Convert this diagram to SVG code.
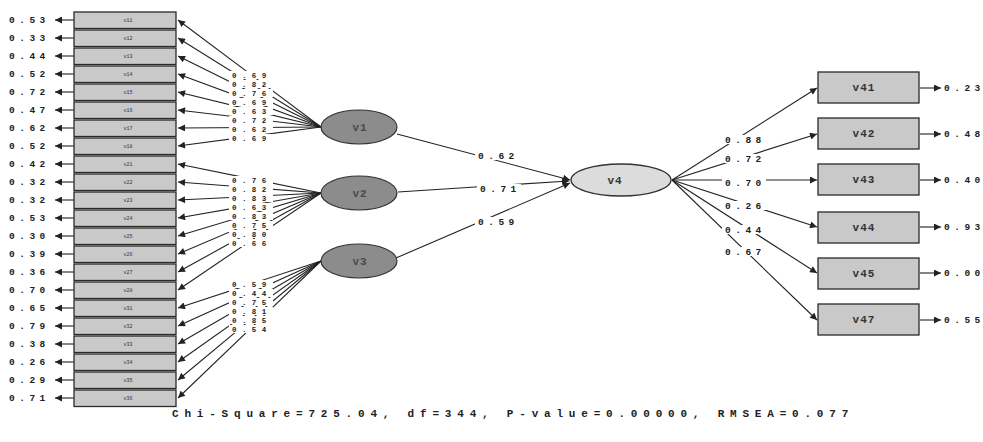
<svg xmlns="http://www.w3.org/2000/svg" width="983" height="442" viewBox="0 0 983 442">
<style>
.t{font-family:"Liberation Mono",monospace;font-weight:bold;font-size:9.5px;letter-spacing:4.5px;fill:#222}
.s{font-family:"Liberation Mono",monospace;font-weight:bold;font-size:7.5px;letter-spacing:5.4px;fill:#222}
.bx{fill:#c9c9c9;stroke:#2a2a2a;stroke-width:1.3}
.bt{font-family:"Liberation Mono",monospace;font-size:5px;fill:#333;text-anchor:middle}
.rt{font-family:"Liberation Mono",monospace;font-weight:bold;font-size:11px;letter-spacing:1px;fill:#333;text-anchor:middle}
.ln{stroke:#222;stroke-width:1.1;fill:none}
.bg{fill:#fff}
</style>
<defs>
<marker id="ah" viewBox="0 0 10 10" refX="10" refY="5" markerWidth="8" markerHeight="7" markerUnits="userSpaceOnUse" orient="auto">
<path d="M0,0 L10,5 L0,10 z" fill="#222"/>
</marker>
</defs>
<rect width="983" height="442" fill="#fff"/>

<g id="connectors">
<g class="ln" marker-end="url(#ah)">
<line x1="321" y1="127" x2="178" y2="20"/>
<line x1="321" y1="127" x2="178" y2="38"/>
<line x1="321" y1="127" x2="178" y2="56"/>
<line x1="321" y1="127" x2="178" y2="74"/>
<line x1="321" y1="127" x2="178" y2="92"/>
<line x1="321" y1="127" x2="178" y2="110"/>
<line x1="321" y1="127" x2="178" y2="128"/>
<line x1="321" y1="127" x2="178" y2="146"/>
<line x1="321" y1="193" x2="178" y2="164"/>
<line x1="321" y1="193" x2="178" y2="182"/>
<line x1="321" y1="193" x2="178" y2="200"/>
<line x1="321" y1="193" x2="178" y2="218"/>
<line x1="321" y1="193" x2="178" y2="236"/>
<line x1="321" y1="193" x2="178" y2="254"/>
<line x1="321" y1="193" x2="178" y2="272"/>
<line x1="321" y1="193" x2="178" y2="290"/>
<line x1="321" y1="261" x2="178" y2="308"/>
<line x1="321" y1="261" x2="178" y2="326"/>
<line x1="321" y1="261" x2="178" y2="344"/>
<line x1="321" y1="261" x2="178" y2="362"/>
<line x1="321" y1="261" x2="178" y2="380"/>
<line x1="321" y1="261" x2="178" y2="398"/>
<line x1="74" y1="20" x2="55" y2="20"/>
<line x1="74" y1="38" x2="55" y2="38"/>
<line x1="74" y1="56" x2="55" y2="56"/>
<line x1="74" y1="74" x2="55" y2="74"/>
<line x1="74" y1="92" x2="55" y2="92"/>
<line x1="74" y1="110" x2="55" y2="110"/>
<line x1="74" y1="128" x2="55" y2="128"/>
<line x1="74" y1="146" x2="55" y2="146"/>
<line x1="74" y1="164" x2="55" y2="164"/>
<line x1="74" y1="182" x2="55" y2="182"/>
<line x1="74" y1="200" x2="55" y2="200"/>
<line x1="74" y1="218" x2="55" y2="218"/>
<line x1="74" y1="236" x2="55" y2="236"/>
<line x1="74" y1="254" x2="55" y2="254"/>
<line x1="74" y1="272" x2="55" y2="272"/>
<line x1="74" y1="290" x2="55" y2="290"/>
<line x1="74" y1="308" x2="55" y2="308"/>
<line x1="74" y1="326" x2="55" y2="326"/>
<line x1="74" y1="344" x2="55" y2="344"/>
<line x1="74" y1="362" x2="55" y2="362"/>
<line x1="74" y1="380" x2="55" y2="380"/>
<line x1="74" y1="398" x2="55" y2="398"/>
<line x1="397" y1="134" x2="570" y2="180"/>
<line x1="398" y1="192" x2="569" y2="181"/>
<line x1="396" y1="258" x2="570" y2="183"/>
<line x1="672" y1="180" x2="817" y2="88"/>
<line x1="672" y1="180" x2="817" y2="134"/>
<line x1="672" y1="180" x2="817" y2="180"/>
<line x1="672" y1="180" x2="817" y2="227"/>
<line x1="672" y1="180" x2="817" y2="273"/>
<line x1="672" y1="180" x2="817" y2="320"/>
<line x1="920" y1="88" x2="941" y2="88"/>
<line x1="920" y1="134" x2="941" y2="134"/>
<line x1="920" y1="180" x2="941" y2="180"/>
<line x1="920" y1="227" x2="941" y2="227"/>
<line x1="920" y1="273" x2="941" y2="273"/>
<line x1="920" y1="320" x2="941" y2="320"/>
</g>
<g class="bg">
<rect x="229" y="71" width="44" height="8"/>
<rect x="229" y="80" width="44" height="8"/>
<rect x="229" y="89" width="44" height="8"/>
<rect x="229" y="98" width="44" height="8"/>
<rect x="229" y="107" width="44" height="8"/>
<rect x="229" y="116" width="44" height="8"/>
<rect x="229" y="125" width="44" height="8"/>
<rect x="229" y="134" width="44" height="8"/>
<rect x="229" y="176" width="44" height="8"/>
<rect x="229" y="185" width="44" height="8"/>
<rect x="229" y="194" width="44" height="8"/>
<rect x="229" y="203" width="44" height="8"/>
<rect x="229" y="212" width="44" height="8"/>
<rect x="229" y="221" width="44" height="8"/>
<rect x="229" y="230" width="44" height="8"/>
<rect x="229" y="239" width="44" height="8"/>
<rect x="229" y="280" width="44" height="8"/>
<rect x="229" y="289" width="44" height="8"/>
<rect x="229" y="298" width="44" height="8"/>
<rect x="229" y="307" width="44" height="8"/>
<rect x="229" y="316" width="44" height="8"/>
<rect x="229" y="325" width="44" height="8"/>
<rect x="475" y="151" width="44" height="9"/>
<rect x="477" y="184" width="44" height="9"/>
<rect x="475" y="217" width="44" height="9"/>
<rect x="722" y="135" width="44" height="9"/>
<rect x="722" y="154" width="44" height="9"/>
<rect x="722" y="178" width="44" height="9"/>
<rect x="722" y="201" width="44" height="9"/>
<rect x="722" y="225" width="44" height="9"/>
<rect x="722" y="247" width="44" height="9"/>
</g>
<g class="s">
<text x="232" y="78">0.69</text>
<text x="232" y="87">0.82</text>
<text x="232" y="96">0.76</text>
<text x="232" y="105">0.69</text>
<text x="232" y="114">0.63</text>
<text x="232" y="123">0.72</text>
<text x="232" y="132">0.62</text>
<text x="232" y="141">0.69</text>
<text x="232" y="183">0.76</text>
<text x="232" y="192">0.82</text>
<text x="232" y="201">0.83</text>
<text x="232" y="210">0.63</text>
<text x="232" y="219">0.83</text>
<text x="232" y="228">0.75</text>
<text x="232" y="237">0.80</text>
<text x="232" y="246">0.66</text>
<text x="232" y="287">0.59</text>
<text x="232" y="296">0.44</text>
<text x="232" y="305">0.75</text>
<text x="232" y="314">0.81</text>
<text x="232" y="323">0.85</text>
<text x="232" y="332">0.54</text>
</g>
<g class="t">
<text x="478" y="159">0.62</text>
<text x="480" y="192">0.71</text>
<text x="478" y="225">0.59</text>
<text x="725" y="143">0.88</text>
<text x="725" y="162">0.72</text>
<text x="725" y="186">0.70</text>
<text x="725" y="209">0.26</text>
<text x="725" y="233">0.44</text>
<text x="725" y="255">0.67</text>
<text x="9" y="23">0.53</text>
<text x="9" y="41">0.33</text>
<text x="9" y="59">0.44</text>
<text x="9" y="77">0.52</text>
<text x="9" y="95">0.72</text>
<text x="9" y="113">0.47</text>
<text x="9" y="131">0.62</text>
<text x="9" y="149">0.52</text>
<text x="9" y="167">0.42</text>
<text x="9" y="185">0.32</text>
<text x="9" y="203">0.32</text>
<text x="9" y="221">0.53</text>
<text x="9" y="239">0.30</text>
<text x="9" y="257">0.39</text>
<text x="9" y="275">0.36</text>
<text x="9" y="293">0.70</text>
<text x="9" y="311">0.65</text>
<text x="9" y="329">0.79</text>
<text x="9" y="347">0.38</text>
<text x="9" y="365">0.26</text>
<text x="9" y="383">0.29</text>
<text x="9" y="401">0.71</text>
<text x="944" y="91">0.23</text>
<text x="944" y="137">0.48</text>
<text x="944" y="183">0.40</text>
<text x="944" y="230">0.93</text>
<text x="944" y="276">0.00</text>
<text x="944" y="323">0.55</text>
</g>
</g>

<g id="n-v11"><rect class="bx" x="74" y="12" width="102" height="16.5"/><text class="bt" x="128" y="22">v11</text></g>
<g id="n-v12"><rect class="bx" x="74" y="30" width="102" height="16.5"/><text class="bt" x="128" y="40">v12</text></g>
<g id="n-v13"><rect class="bx" x="74" y="48" width="102" height="16.5"/><text class="bt" x="128" y="58">v13</text></g>
<g id="n-v14"><rect class="bx" x="74" y="66" width="102" height="16.5"/><text class="bt" x="128" y="76">v14</text></g>
<g id="n-v15"><rect class="bx" x="74" y="84" width="102" height="16.5"/><text class="bt" x="128" y="94">v15</text></g>
<g id="n-v16"><rect class="bx" x="74" y="102" width="102" height="16.5"/><text class="bt" x="128" y="112">v16</text></g>
<g id="n-v17"><rect class="bx" x="74" y="120" width="102" height="16.5"/><text class="bt" x="128" y="130">v17</text></g>
<g id="n-v18"><rect class="bx" x="74" y="138" width="102" height="16.5"/><text class="bt" x="128" y="148">v18</text></g>
<g id="n-v21"><rect class="bx" x="74" y="156" width="102" height="16.5"/><text class="bt" x="128" y="166">v21</text></g>
<g id="n-v22"><rect class="bx" x="74" y="174" width="102" height="16.5"/><text class="bt" x="128" y="184">v22</text></g>
<g id="n-v23"><rect class="bx" x="74" y="192" width="102" height="16.5"/><text class="bt" x="128" y="202">v23</text></g>
<g id="n-v24"><rect class="bx" x="74" y="210" width="102" height="16.5"/><text class="bt" x="128" y="220">v24</text></g>
<g id="n-v25"><rect class="bx" x="74" y="228" width="102" height="16.5"/><text class="bt" x="128" y="238">v25</text></g>
<g id="n-v26"><rect class="bx" x="74" y="246" width="102" height="16.5"/><text class="bt" x="128" y="256">v26</text></g>
<g id="n-v27"><rect class="bx" x="74" y="264" width="102" height="16.5"/><text class="bt" x="128" y="274">v27</text></g>
<g id="n-v28"><rect class="bx" x="74" y="282" width="102" height="16.5"/><text class="bt" x="128" y="292">v28</text></g>
<g id="n-v31"><rect class="bx" x="74" y="300" width="102" height="16.5"/><text class="bt" x="128" y="310">v31</text></g>
<g id="n-v32"><rect class="bx" x="74" y="318" width="102" height="16.5"/><text class="bt" x="128" y="328">v32</text></g>
<g id="n-v33"><rect class="bx" x="74" y="336" width="102" height="16.5"/><text class="bt" x="128" y="346">v33</text></g>
<g id="n-v34"><rect class="bx" x="74" y="354" width="102" height="16.5"/><text class="bt" x="128" y="364">v34</text></g>
<g id="n-v35"><rect class="bx" x="74" y="372" width="102" height="16.5"/><text class="bt" x="128" y="382">v35</text></g>
<g id="n-v36"><rect class="bx" x="74" y="390" width="102" height="16.5"/><text class="bt" x="128" y="400">v36</text></g>

<g id="n-v1"><ellipse cx="359" cy="127" rx="38" ry="17" fill="#8c8c8c" stroke="#333" stroke-width="1.2"/><text class="rt" x="360" y="131" style="fill:#4a4a4a">v1</text></g>
<g id="n-v2"><ellipse cx="359" cy="193" rx="38" ry="17" fill="#8c8c8c" stroke="#333" stroke-width="1.2"/><text class="rt" x="360" y="197" style="fill:#4a4a4a">v2</text></g>
<g id="n-v3"><ellipse cx="359" cy="261" rx="38" ry="17" fill="#8c8c8c" stroke="#333" stroke-width="1.2"/><text class="rt" x="360" y="265" style="fill:#4a4a4a">v3</text></g>
<g id="n-v4"><ellipse cx="621" cy="180" rx="50" ry="16" fill="#dcdcdc" stroke="#333" stroke-width="1.3"/><text class="rt" x="615" y="184">v4</text></g>

<g id="n-v41"><rect class="bx" x="818" y="72" width="101" height="31"/><text class="rt" x="864" y="91">v41</text></g>
<g id="n-v42"><rect class="bx" x="818" y="118" width="101" height="31"/><text class="rt" x="864" y="137">v42</text></g>
<g id="n-v43"><rect class="bx" x="818" y="164" width="101" height="31"/><text class="rt" x="864" y="183">v43</text></g>
<g id="n-v44"><rect class="bx" x="818" y="212" width="101" height="31"/><text class="rt" x="864" y="231">v44</text></g>
<g id="n-v45"><rect class="bx" x="818" y="258" width="101" height="31"/><text class="rt" x="864" y="277">v45</text></g>
<g id="n-v47"><rect class="bx" x="818" y="304" width="101" height="31"/><text class="rt" x="864" y="323">v47</text></g>

<text x="172" y="417" style="font-family:'Liberation Mono',monospace;font-weight:bold;font-size:11px;letter-spacing:5.8px;fill:#222">Chi-Square=725.04, df=344, P-value=0.00000, RMSEA=0.077</text>
</svg>
